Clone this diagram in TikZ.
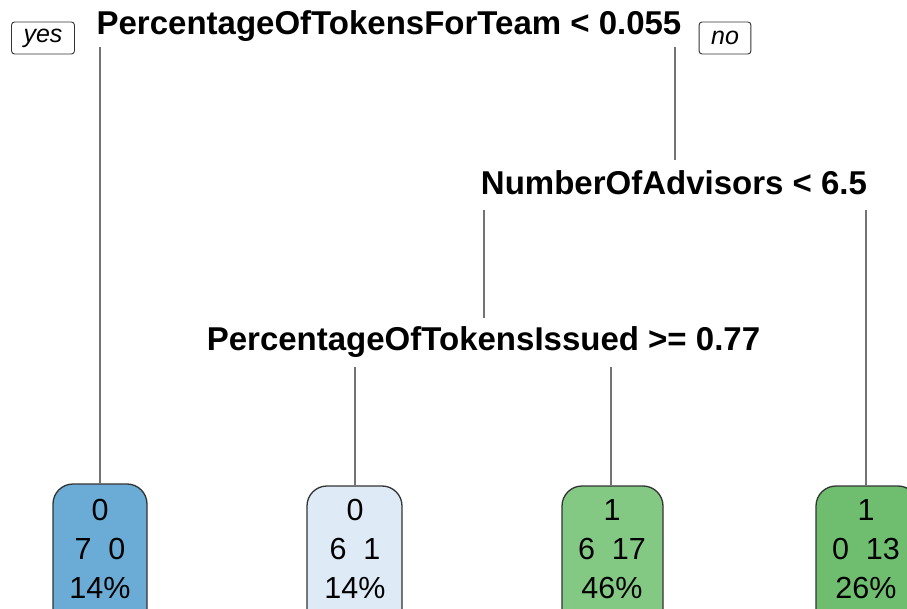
\documentclass[tikz,border=0pt]{standalone}
\usepackage{fontspec}
\setmainfont{Liberation Sans}
\begin{document}
\begin{tikzpicture}[x=1pt,y=-1pt,
  split/.style={font=\fontsize{33}{36}\selectfont\bfseries, anchor=base, inner sep=0pt},
  tag/.style={draw=black!80, rounded corners=3pt, line width=0.9pt, font=\fontsize{25}{28}\selectfont\itshape,
              minimum height=32pt, inner xsep=12pt, inner ysep=0pt},
  leaf/.style={draw=black!80, line width=1.3pt, rounded corners=20pt},
  leaftext/.style={font=\fontsize{30.5}{36}\selectfont, anchor=base, inner sep=0pt},
  branch/.style={draw=black!55, line width=2.2pt}]
\useasboundingbox (0,0) rectangle (907,609);
\clip (0,0) rectangle (907,609);
\fill[white] (0,0) rectangle (907,609);

% split labels
\node[split] (root) at (389,35) {PercentageOfTokensForTeam < 0.055};
\node[split] (adv) at (674,195) {NumberOfAdvisors < 6.5};
\node[split] (iss) at (483.5,350) {PercentageOfTokensIssued >= 0.77};

% yes / no tags
\node[tag] (yes) at (43,38) {yes};
\node[tag] (no) at (725,38) {no};

% leaves
\path[leaf, fill={rgb,255:red,106;green,172;blue,213}] (53,484) rectangle (147,640);
\path[leaf, fill={rgb,255:red,222;green,235;blue,247}] (307,486) rectangle (402,640);
\path[leaf, fill={rgb,255:red,131;green,201;blue,132}] (562,486) rectangle (663,640);
\path[leaf, fill={rgb,255:red,111;green,190;blue,112}] (816,486) rectangle (918,640);
\coordinate (l1) at (100,484);
\coordinate (l2) at (355,486);
\coordinate (l3) at (611,486);
\coordinate (l4) at (866,486);

\node[leaftext] (a1) at (100,520) {0};
\node[leaftext] (b1) at (100,559) {7\ \ 0};
\node[leaftext] (c1) at (100,598) {14\%};
\node[leaftext] (a2) at (355,520) {0};
\node[leaftext] (b2) at (355,559) {6\ \ 1};
\node[leaftext] (c2) at (355,598) {14\%};
\node[leaftext] (a3) at (612,520) {1};
\node[leaftext] (b3) at (612,559) {6\ \ 17};
\node[leaftext] (c3) at (612,598) {46\%};
\node[leaftext] (a4) at (866,520) {1};
\node[leaftext] (b4) at (866,559) {0\ \ 13};
\node[leaftext] (c4) at (866,598) {26\%};

% branches
\coordinate (r1) at (100,47);
\coordinate (r2) at (675,47);
\coordinate (r2e) at (675,160);
\coordinate (v1) at (484,210);
\coordinate (v1e) at (484,318);
\coordinate (v2) at (866,210);
\coordinate (i1) at (355,367);
\coordinate (i2) at (611,367);
\draw[branch] (r1) -- (l1);
\draw[branch] (r2) -- (r2e);
\draw[branch] (v1) -- (v1e);
\draw[branch] (v2) -- (l4);
\draw[branch] (i1) -- (l2);
\draw[branch] (i2) -- (l3);
\end{tikzpicture}
\end{document}
